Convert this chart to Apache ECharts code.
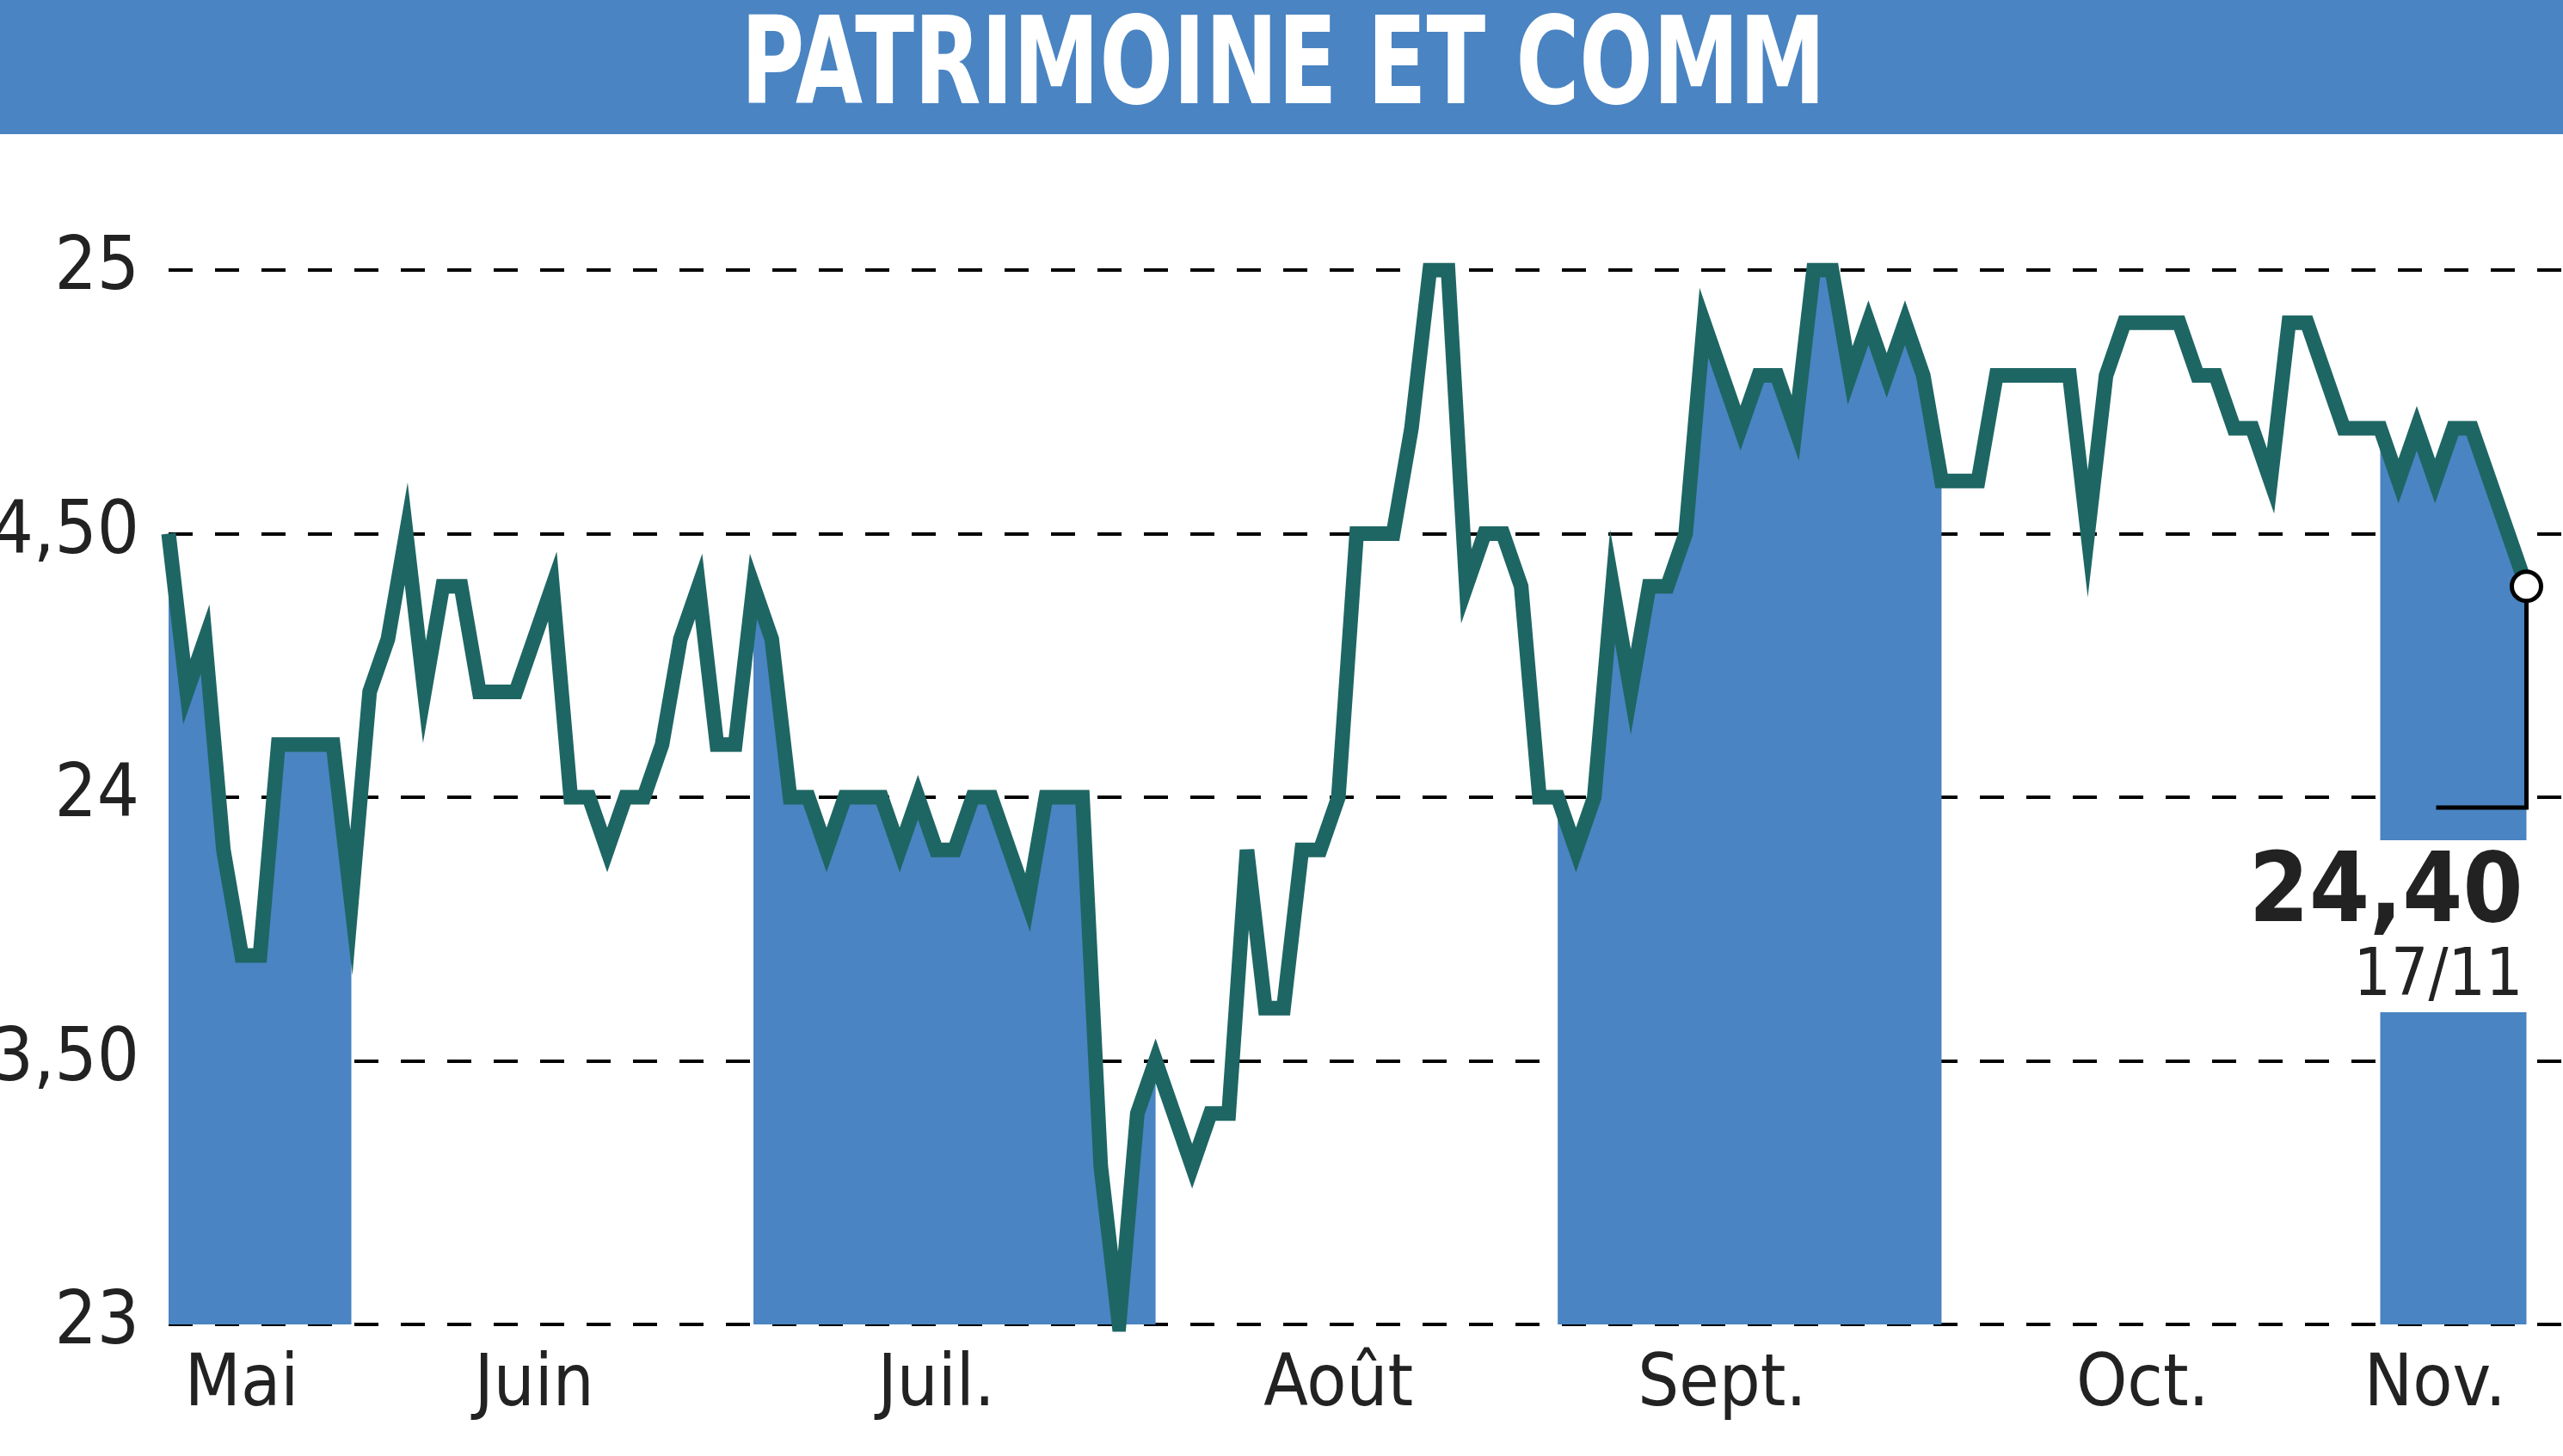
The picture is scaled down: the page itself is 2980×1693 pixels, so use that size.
<!DOCTYPE html>
<html>
<head>
<meta charset="utf-8">
<script src="https://cdn.jsdelivr.net/npm/echarts@6/dist/echarts.min.js"></script>
<style>
  html, body { margin: 0; padding: 0; background: #fff; }
  #chart { width: 2980px; height: 1693px; }
</style>
</head>
<body>
<div id="chart"></div>
<script>
// daily closes, mid-May to 17/11
const closes = [
  24.5, 24.2, 24.3, 23.9, 23.7, 23.7, 24.1, 24.1, 24.1, 24.1, 23.8,
  24.2, 24.3, 24.5, 24.2, 24.4, 24.4, 24.2, 24.2, 24.2, 24.3, 24.4, 24.0, 24.0, 23.9, 24.0, 24.0, 24.1, 24.3, 24.4, 24.1, 24.1,
  24.4, 24.3, 24.0, 24.0, 23.9, 24.0, 24.0, 24.0, 23.9, 24.0, 23.9, 23.9, 24.0, 24.0, 23.9, 23.8, 24.0, 24.0, 24.0, 23.3, 23.0, 23.4, 23.5,
  23.4, 23.3, 23.4, 23.4, 23.9, 23.6, 23.6, 23.9, 23.9, 24.0, 24.5, 24.5, 24.5, 24.7, 25.0, 25.0, 24.4, 24.5, 24.5, 24.4, 24.0,
  24.0, 23.9, 24.0, 24.4, 24.2, 24.4, 24.4, 24.5, 24.9, 24.8, 24.7, 24.8, 24.8, 24.7, 25.0, 25.0, 24.8, 24.9, 24.8, 24.9, 24.8, 24.6,
  24.6, 24.6, 24.8, 24.8, 24.8, 24.8, 24.8, 24.5, 24.8, 24.9, 24.9, 24.9, 24.9, 24.8, 24.8, 24.7, 24.7, 24.6, 24.9, 24.9, 24.8, 24.7, 24.7,
  24.7, 24.6, 24.7, 24.6, 24.7, 24.7, 24.6, 24.5, 24.4
];
// first index of each month, and which months are shaded
const monthStarts = [0, 11, 32, 55, 76, 98, 121];
const shadedMonths = [0, 2, 4, 6];
const monthNames = ["Mai", "Juin", "Juil.", "Août", "Sept.", "Oct.", "Nov."];
const monthLabelAt = [4, 20, 42, 64, 85, 108, 124];
const yTicks = [23, 23.5, 24, 24.5, 25];
const lastLabel = "24,40";
const lastDate = "17/11";

const padRight = 2;
const days = closes.map((_, i) => String(i)).concat(Array.from({ length: padRight }, (_, i) => "p" + i));
const monthOf = (i) => {
  let m = 0;
  monthStarts.forEach((s, k) => { if (i >= s) m = k; });
  return m;
};
const shaded = closes.map((v, i) => shadedMonths.includes(monthOf(i)) ? v : null);
const lineData = closes.concat(Array(padRight).fill(null));

const font = "'DejaVu Sans Condensed', 'Liberation Sans Narrow', sans-serif";
const title = () => [
  { type: "rect", shape: { x: 0, y: 0, width: 2980, height: 156 }, style: { fill: "#4a84c2" } },
  {
    type: "text", x: 1492, y: 84, scaleX: 0.8, originX: 0, originY: 0,
    style: { text: "PATRIMOINE ET COMM", fill: "#fff", font: "bold 140px " + font, textAlign: "center", textVerticalAlign: "middle" }
  }
];
const chart = echarts.init(document.getElementById("chart"));
chart.setOption({
  animation: false,
  backgroundColor: "#fff",
  grid: { left: 196, right: 0, top: 314, bottom: 153, outerBoundsMode: "none", containLabel: false },
  xAxis: {
    type: "category",
    data: days,
    boundaryGap: false,
    axisLine: { show: false },
    axisTick: { show: false },
    axisLabel: {
      interval: (i) => monthLabelAt.includes(i),
      formatter: (v, i) => monthNames[monthLabelAt.indexOf(i)] || "",
      fontFamily: font, fontSize: 84, color: "#222", margin: 30
    },
    splitLine: { show: false }
  },
  yAxis: {
    type: "value",
    min: 23, max: 25, interval: 0.5,
    axisLine: { show: false },
    axisTick: { show: false },
    axisLabel: {
      formatter: (v) => yTicks.includes(v) ? (Number.isInteger(v) ? String(v) : v.toFixed(2).replace(".", ",")) : "",
      fontFamily: font, fontSize: 86, color: "#222", margin: 34
    },
    splitLine: { lineStyle: { color: "#000", type: [28, 26], width: 4 } }
  },
  series: [
    {
      type: "line", data: shaded.concat(Array(padRight).fill(null)), symbol: "none",
      lineStyle: { width: 0 }, areaStyle: { color: "#4a84c2", opacity: 1 }, z: 1
    },
    {
      type: "line", data: lineData, symbol: "none",
      lineStyle: { color: "#1e6663", width: 17, join: "miter" }, z: 3
    }
  ],
  graphic: title()
});

const lastIdx = closes.length - 1;
const [px, py] = chart.convertToPixel({ gridIndex: 0 }, [lastIdx, closes[lastIdx]]);
const [, y24] = chart.convertToPixel({ gridIndex: 0 }, [lastIdx, 24]);
const boxLeft = chart.convertToPixel({ gridIndex: 0 }, [monthStarts[6], 24])[0];
chart.setOption({
  graphic: title().concat([
    { type: "rect", z: 10, shape: { x: boxLeft - 2, y: y24 + 50, width: px - boxLeft + 30, height: 200 }, style: { fill: "#fff" } },
    { type: "polyline", z: 11, shape: { points: [[px, py], [px, y24 + 12], [px - 105, y24 + 12]] }, style: { stroke: "#000", lineWidth: 5, fill: null } },
    { type: "circle", z: 12, shape: { cx: px, cy: py, r: 17 }, style: { fill: "#fff", stroke: "#000", lineWidth: 5 } },
    {
      type: "text", z: 12, x: px - 4, y: y24 + 115,
      style: { text: lastLabel, fill: "#222", font: "bold 112px " + font, textAlign: "right", textVerticalAlign: "middle" }
    },
    {
      type: "text", z: 12, x: px - 4, y: y24 + 210,
      style: { text: lastDate, fill: "#222", font: "76px " + font, textAlign: "right", textVerticalAlign: "middle" }
    }
  ])
});
</script>
</body>
</html>
